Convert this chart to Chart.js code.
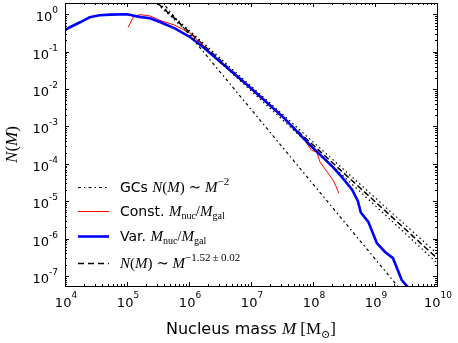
<!DOCTYPE html>
<html><head><meta charset="utf-8">
<script src="https://cdn.jsdelivr.net/npm/chart.js@4/dist/chart.umd.min.js"></script>
<style>html,body{margin:0;padding:0;background:#fff}</style>
</head><body>
<canvas id="c" width="458" height="343"></canvas>
<script>
// ---- data ----
const varMass = [1e4, 1.2e4, 1.75e4, 2.5e4, 3.6e4, 5.4e4, 1e5, 1.6e5, 2.35e5, 3.4e5, 5.9e5, 1.05e6, 1.7e6, 4.6e6, 9.6e6, 3.3e7, 8.9e7, 2.1e8, 3.0e8, 4.3e8, 5.3e8, 5.9e8, 7.8e8, 1.07e9, 1.45e9, 1.95e9, 2.7e9, 3.4e9, 4.2e9];
const varN    = [0.374, 0.45, 0.61, 0.83, 0.94, 0.98, 1.0, 0.85, 0.78, 0.62, 0.42, 0.243, 0.131, 0.032, 0.0112, 1.78e-3, 3.2e-4, 8.2e-5, 4.2e-5, 2.0e-5, 1.0e-5, 5.0e-6, 2.8e-6, 7.6e-7, 4.4e-7, 3.0e-7, 7.8e-8, 5.0e-8, 3.5e-8];
const constMass = [1.04e5, 1.26e5, 1.62e5, 2.35e5, 3.4e5, 5.9e5, 1.05e6, 1.7e6, 4.6e6, 9.6e6, 3.3e7, 6.9e7, 9.5e7, 1.15e8, 1.3e8, 1.7e8, 2.1e8, 2.35e8, 2.6e8];
const constN    = [0.45, 0.83, 0.98, 0.90, 0.69, 0.51, 0.31, 0.148, 0.030, 0.0105, 1.66e-3, 4.9e-4, 2.3e-4, 2.05e-4, 1.11e-4, 6.0e-5, 3.7e-5, 2.5e-5, 1.65e-5];
const gcMass = [1e4, 1e10];
const gcN    = [2.88e3, 2.88e-9];
const fitMass = [1e4, 1e10];
const fitN    = [3.63e2, 3.0e-7];
const fitHiN  = [3.63e2, 4.0e-7];
const fitLoN  = [3.63e2, 2.25e-7];
const xTickExps = ['4', '5', '6', '7', '8', '9', '10'];
const yTickExps = ['0', '-1', '-2', '-3', '-4', '-5', '-6', '-7'];

const pts = (xs, ys) => xs.map((x, i) => ({x: x, y: ys[i]}));
const SANS = '"DejaVu Sans", sans-serif';
const SERIF = '"Liberation Serif", "DejaVu Serif", serif';

function rich(ctx, x, y, segs, align) {
  let w = 0;
  segs.forEach(s => { ctx.font = s.f; s.w = ctx.measureText(s.t).width; w += s.w; });
  let cx = align === 'right' ? x - w : align === 'center' ? x - w / 2 : x;
  ctx.textBaseline = 'alphabetic'; ctx.textAlign = 'left';
  segs.forEach(s => { ctx.font = s.f; ctx.fillText(s.t, cx, y + (s.dy || 0)); cx += s.w; });
}

const deco = {
  id: 'deco',
  afterDraw(chart) {
    const ctx = chart.ctx, a = chart.chartArea, xs = chart.scales.x, ys = chart.scales.y;
    ctx.save();
    ctx.strokeStyle = '#000'; ctx.fillStyle = '#000'; ctx.lineWidth = 1;
    ctx.strokeRect(Math.round(a.left) + 0.5, Math.round(a.top) + 0.5, Math.round(a.right - a.left), Math.round(a.bottom - a.top));
    ctx.beginPath();
    for (let d = 4; d <= 10; d++) {
      for (let k = 1; k <= 9; k++) {
        if (d === 10 && k > 1) break;
        const px = Math.round(xs.getPixelForValue(k * Math.pow(10, d))) + 0.5;
        const L = k === 1 ? 4 : 2;
        ctx.moveTo(px, a.bottom); ctx.lineTo(px, a.bottom - L);
        ctx.moveTo(px, a.top); ctx.lineTo(px, a.top + L);
      }
    }
    for (let d = -8; d <= 0; d++) {
      for (let k = 1; k <= 9; k++) {
        const v = k * Math.pow(10, d);
        if (v < ys.min || v > ys.max) continue;
        const py = Math.round(ys.getPixelForValue(v)) + 0.5;
        const L = k === 1 ? 4 : 2;
        ctx.moveTo(a.left, py); ctx.lineTo(a.left + L, py);
        ctx.moveTo(a.right, py); ctx.lineTo(a.right - L, py);
      }
    }
    ctx.stroke();
    xTickExps.forEach(e => {
      const px = xs.getPixelForValue(Math.pow(10, +e));
      rich(ctx, px + 1, a.bottom + 21, [{t: '10', f: '13px ' + SANS}, {t: e, f: '9px ' + SANS, dy: -9}], 'center');
    });
    yTickExps.forEach(e => {
      const py = ys.getPixelForValue(Math.pow(10, +e));
      rich(ctx, 58, py + 7, [{t: '10', f: '13px ' + SANS}, {t: e, f: '9px ' + SANS, dy: -8}], 'right');
    });
    rich(ctx, 251, 334, [
      {t: 'Nucleus mass ', f: '16px ' + SANS},
      {t: 'M', f: 'italic 17px ' + SERIF},
      {t: ' [M', f: '17px ' + SERIF},
      {t: '\u2299', f: '11px ' + SERIF, dy: 4},
      {t: ']', f: '17px ' + SERIF}], 'center');
    ctx.save();
    ctx.translate(17, (a.top + a.bottom) / 2);
    ctx.rotate(-Math.PI / 2);
    rich(ctx, 0, 0, [{t: 'N', f: 'italic 17px ' + SERIF}, {t: '(', f: '17px ' + SERIF}, {t: 'M', f: 'italic 17px ' + SERIF}, {t: ')', f: '17px ' + SERIF}], 'center');
    ctx.restore();
    const items = [
      {y: 187, color: '#000', w: 1.2, dash: [3, 3, 1.5, 3], segs: [
        {t: 'GCs ', f: '14px ' + SANS}, {t: 'N', f: 'italic 15px ' + SERIF}, {t: '(', f: '15px ' + SERIF}, {t: 'M', f: 'italic 15px ' + SERIF}, {t: ') \u223C ', f: '15px ' + SERIF}, {t: 'M', f: 'italic 15px ' + SERIF}, {t: '\u22122', f: '11px ' + SERIF, dy: -7}]},
      {y: 211, color: '#ff0000', w: 1, dash: [], segs: [
        {t: 'Const. ', f: '14px ' + SANS}, {t: 'M', f: 'italic 15px ' + SERIF}, {t: 'nuc', f: '10px ' + SERIF, dy: 3}, {t: '/', f: '15px ' + SERIF}, {t: 'M', f: 'italic 15px ' + SERIF}, {t: 'gal', f: '10px ' + SERIF, dy: 3}]},
      {y: 236, color: '#0000ff', w: 2.6, dash: [], segs: [
        {t: 'Var. ', f: '14px ' + SANS}, {t: 'M', f: 'italic 15px ' + SERIF}, {t: 'nuc', f: '10px ' + SERIF, dy: 3}, {t: '/', f: '15px ' + SERIF}, {t: 'M', f: 'italic 15px ' + SERIF}, {t: 'gal', f: '10px ' + SERIF, dy: 3}]},
      {y: 263, color: '#000', w: 1.5, dash: [6, 4], segs: [
        {t: 'N', f: 'italic 15px ' + SERIF}, {t: '(', f: '15px ' + SERIF}, {t: 'M', f: 'italic 15px ' + SERIF}, {t: ') \u223C ', f: '15px ' + SERIF}, {t: 'M', f: 'italic 15px ' + SERIF}, {t: '\u22121.52\u2009\u00B1\u20090.02', f: '11px ' + SERIF, dy: -7}]}
    ];
    items.forEach(it => {
      ctx.beginPath(); ctx.setLineDash(it.dash); ctx.lineWidth = it.w; ctx.strokeStyle = it.color;
      ctx.moveTo(78, it.y + 0.5); ctx.lineTo(109, it.y + 0.5); ctx.stroke();
      ctx.setLineDash([]);
      ctx.fillStyle = '#000';
      rich(ctx, 120, it.y + 5, it.segs, 'left');
    });
    ctx.restore();
  }
};

new Chart(document.getElementById('c'), {
  type: 'scatter',
  data: {
    datasets: [
      {data: pts(fitMass, fitHiN), showLine: true, borderColor: '#000', borderWidth: 1.2, borderDash: [1.5, 3], pointRadius: 0},
      {data: pts(fitMass, fitLoN), showLine: true, borderColor: '#000', borderWidth: 1.2, borderDash: [1.5, 3], pointRadius: 0},
      {data: pts(gcMass, gcN), showLine: true, borderColor: '#000', borderWidth: 1.2, borderDash: [3, 3, 1.5, 3], pointRadius: 0},
      {data: pts(varMass, varN), showLine: true, borderColor: '#0000ff', borderWidth: 2.6, pointRadius: 0},
      {data: pts(constMass, constN), showLine: true, borderColor: '#ff0000', borderWidth: 1, pointRadius: 0},
      {data: pts(fitMass, fitN), showLine: true, borderColor: '#000', borderWidth: 1.5, borderDash: [6, 3], pointRadius: 0}
    ]
  },
  options: {
    responsive: false, animation: false, devicePixelRatio: 1,
    layout: {padding: {top: 3, right: 21, left: 0, bottom: 0}},
    plugins: {legend: {display: false}, tooltip: {enabled: false}},
    scales: {
      x: {type: 'logarithmic', min: 1e4, max: 1e10, grid: {display: false}, border: {display: false}, ticks: {display: false},
          afterFit(s) { s.height = 57; }},
      y: {type: 'logarithmic', min: 5.4e-8, max: 2.0, grid: {display: false}, border: {display: false}, ticks: {display: false},
          afterFit(s) { s.width = 65; }}
    }
  },
  plugins: [deco]
});
</script>
</body></html>
